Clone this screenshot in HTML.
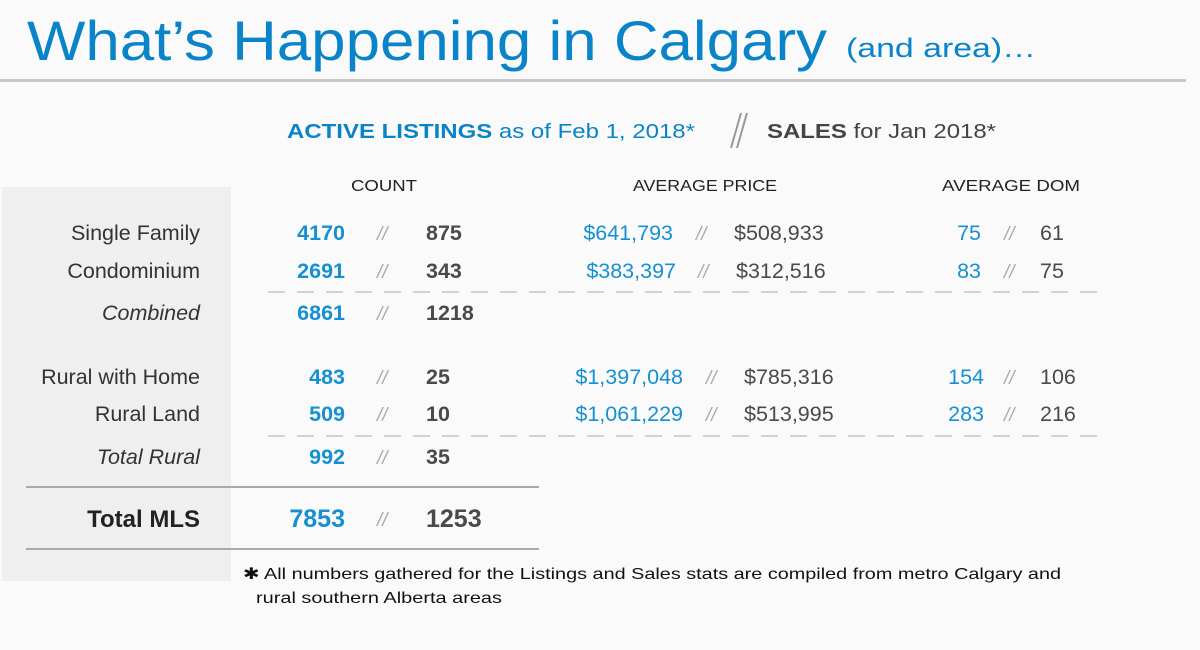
<!DOCTYPE html>
<html><head><meta charset="utf-8"><style>
html,body{margin:0;padding:0;background:#fafafa;}
svg{display:block;font-family:"Liberation Sans",sans-serif;}
.b{fill:#1590d2}.d{fill:#4a4a4a}.s{fill:#aaa;font-size:19px;font-style:italic}
.n{font-size:21.5px;font-weight:bold}.p{font-size:21.5px}
.l{font-size:21.5px;fill:#333}
</style></head><body>
<svg width="1200" height="650" viewBox="0 0 1200 650">
<rect width="1200" height="650" fill="#fafafa"/>
<rect x="2" y="187" width="229" height="394" fill="#efefef"/>
<text x="27" y="60" font-size="56" fill="#0a84c8" textLength="800" lengthAdjust="spacingAndGlyphs">What’s Happening in Calgary</text>
<text x="846" y="57" font-size="27" fill="#0a84c8" textLength="190" lengthAdjust="spacingAndGlyphs">(and area)…</text>
<rect x="0" y="79" width="1186" height="3" fill="#c8c8c8"/>
<text x="287" y="138" font-size="20" fill="#0a84c8" textLength="408" lengthAdjust="spacingAndGlyphs"><tspan font-weight="bold">ACTIVE LISTINGS</tspan> as of Feb 1, 2018*</text>
<path d="M731 148 L741 113 M737 148 L747 113" stroke="#999" stroke-width="2"/>
<text x="767" y="138" font-size="20" fill="#444" textLength="229" lengthAdjust="spacingAndGlyphs"><tspan font-weight="bold">SALES</tspan> for Jan 2018*</text>
<g font-size="16" fill="#222">
<text x="351" y="191" textLength="66" lengthAdjust="spacingAndGlyphs">COUNT</text>
<text x="633" y="191" textLength="144" lengthAdjust="spacingAndGlyphs">AVERAGE PRICE</text>
<text x="942" y="191" textLength="138" lengthAdjust="spacingAndGlyphs">AVERAGE DOM</text>
</g>
<g text-anchor="end">
<text class="l" x="200" y="240">Single Family</text>
<text class="l" x="200" y="278">Condominium</text>
<text class="l" x="200" y="320" font-style="italic">Combined</text>
<text class="l" x="200" y="384">Rural with Home</text>
<text class="l" x="200" y="421">Rural Land</text>
<text class="l" x="200" y="464" font-style="italic">Total Rural</text>
<text x="200" y="527" style="font-size:24px" font-weight="bold" fill="#222">Total MLS</text>
<text class="n b" x="345" y="240">4170</text>
<text class="n b" x="345" y="278">2691</text>
<text class="n b" x="345" y="320">6861</text>
<text class="n b" x="345" y="384">483</text>
<text class="n b" x="345" y="421">509</text>
<text class="n b" x="345" y="464">992</text>
<text class="n b" x="345" y="527" style="font-size:25px">7853</text>
<text class="p b" x="673" y="240">$641,793</text>
<text class="p b" x="676" y="278">$383,397</text>
<text class="p b" x="683" y="384">$1,397,048</text>
<text class="p b" x="683" y="421">$1,061,229</text>
<text class="p b" x="981" y="240">75</text>
<text class="p b" x="981" y="278">83</text>
<text class="p b" x="984" y="384">154</text>
<text class="p b" x="984" y="421">283</text>
</g>
<g class="s">
<text x="377" y="240">//</text><text x="377" y="278">//</text><text x="377" y="320">//</text>
<text x="377" y="384">//</text><text x="377" y="421">//</text><text x="377" y="464">//</text><text x="377" y="526">//</text>
<text x="696" y="240">//</text><text x="698" y="278">//</text><text x="706" y="384">//</text><text x="706" y="421">//</text>
<text x="1004" y="240">//</text><text x="1004" y="278">//</text><text x="1004" y="384">//</text><text x="1004" y="421">//</text>
</g>
<g class="n d">
<text x="426" y="240">875</text><text x="426" y="278">343</text><text x="426" y="320">1218</text>
<text x="426" y="384">25</text><text x="426" y="421">10</text><text x="426" y="464">35</text>
<text x="426" y="527" style="font-size:25px">1253</text>
</g>
<g class="p d">
<text x="734" y="240">$508,933</text><text x="736" y="278">$312,516</text>
<text x="744" y="384">$785,316</text><text x="744" y="421">$513,995</text>
<text x="1040" y="240">61</text><text x="1040" y="278">75</text>
<text x="1040" y="384">106</text><text x="1040" y="421">216</text>
</g>
<line x1="268" y1="292" x2="1097" y2="292" stroke="#bbb" stroke-width="1.3" stroke-dasharray="17,12"/>
<line x1="268" y1="436" x2="1097" y2="436" stroke="#bbb" stroke-width="1.3" stroke-dasharray="17,12"/>
<rect x="26" y="486" width="513" height="2" fill="#aaa"/>
<rect x="26" y="548" width="513" height="2" fill="#aaa"/>
<g font-size="16" fill="#111">
<text x="243" y="579" textLength="818" lengthAdjust="spacingAndGlyphs">✱ All numbers gathered for the Listings and Sales stats are compiled from metro Calgary and</text>
<text x="256" y="603" textLength="246" lengthAdjust="spacingAndGlyphs">rural southern Alberta areas</text>
</g>
</svg>
</body></html>
